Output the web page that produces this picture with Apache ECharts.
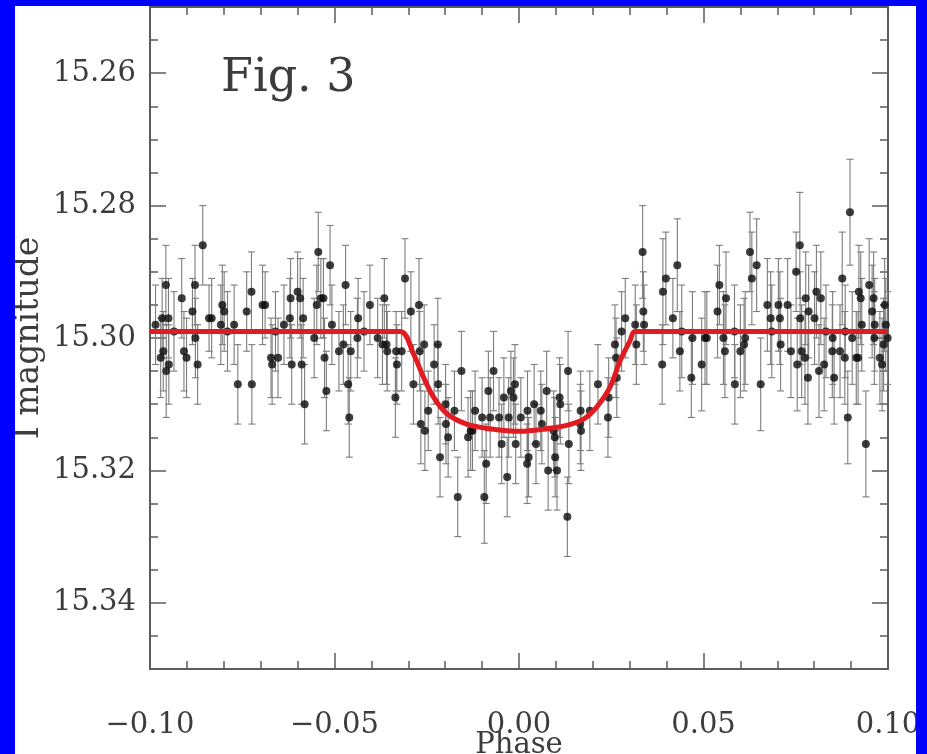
<!DOCTYPE html>
<html>
<head>
<meta charset="utf-8">
<title>Fig. 3 – I-band light curve</title>
<script src="https://cdn.jsdelivr.net/npm/echarts@6/dist/echarts.min.js"></script>
<style>
  html, body { margin: 0; padding: 0; width: 927px; height: 754px; overflow: hidden; background: #0000fe; }
  #panel { position: absolute; left: 15px; top: 6px; width: 901px; height: 748px; background: #ffffff; overflow: hidden; }
  #chart { width: 901px; height: 748px; }
</style>
</head>
<body>
<div id="panel"><div id="chart"></div></div>
<script>
// Phase-folded I-band photometry: phase, magnitude and 1-sigma error per point
const phase = [
  -0.0985, -0.0971, -0.0967, -0.0964, -0.0957, -0.0956, -0.0950, -0.0949, -0.0935, -0.0914,
  -0.0908, -0.0901, -0.0885, -0.0878, -0.0877, -0.0871, -0.0857, -0.0840, -0.0833, -0.0808,
  -0.0804, -0.0799, -0.0790, -0.0772, -0.0762, -0.0738, -0.0725, -0.0724, -0.0695, -0.0688,
  -0.0672, -0.0669, -0.0660, -0.0653, -0.0637, -0.0621, -0.0619, -0.0616, -0.0600, -0.0593,
  -0.0589, -0.0585, -0.0581, -0.0555, -0.0548, -0.0544, -0.0537, -0.0530, -0.0527, -0.0522,
  -0.0512, -0.0507, -0.0488, -0.0476, -0.0470, -0.0463, -0.0460, -0.0456, -0.0438, -0.0436,
  -0.0420, -0.0404, -0.0383, -0.0370, -0.0365, -0.0359, -0.0357, -0.0335, -0.0333, -0.0331,
  -0.0318, -0.0309, -0.0293, -0.0286, -0.0271, -0.0269, -0.0266, -0.0257, -0.0255, -0.0246,
  -0.0230, -0.0220, -0.0219, -0.0214, -0.0199, -0.0198, -0.0192, -0.0175, -0.0166, -0.0156,
  -0.0138, -0.0131, -0.0126, -0.0119, -0.0100, -0.0094, -0.0089, -0.0083, -0.0078, -0.0069,
  -0.0054, -0.0047, -0.0041, -0.0032, -0.0028, -0.0022, -0.0015, -0.0011, -0.0009, 0.0005,
  0.0022, 0.0023, 0.0026, 0.0041, 0.0046, 0.0059, 0.0062, 0.0075, 0.0079, 0.0094,
  0.0097, 0.0098, 0.0103, 0.0110, 0.0112, 0.0131, 0.0133, 0.0135, 0.0166, 0.0167,
  0.0168, 0.0192, 0.0214, 0.0241, 0.0243, 0.0260, 0.0263, 0.0265, 0.0278, 0.0288,
  0.0315, 0.0318, 0.0335, 0.0337, 0.0339, 0.0388, 0.0390, 0.0398, 0.0417, 0.0429,
  0.0436, 0.0441, 0.0467, 0.0470, 0.0495, 0.0504, 0.0509, 0.0538, 0.0543, 0.0554,
  0.0558, 0.0561, 0.0584, 0.0585, 0.0600, 0.0610, 0.0613, 0.0626, 0.0631, 0.0644,
  0.0655, 0.0673, 0.0682, 0.0685, 0.0703, 0.0707, 0.0709, 0.0728, 0.0737, 0.0751,
  0.0754, 0.0761, 0.0762, 0.0766, 0.0775, 0.0777, 0.0783, 0.0785, 0.0801, 0.0806,
  0.0813, 0.0818, 0.0827, 0.0832, 0.0849, 0.0850, 0.0854, 0.0870, 0.0876, 0.0883,
  0.0884, 0.0891, 0.0897, 0.0903, 0.0914, 0.0919, 0.0921, 0.0926, 0.0929, 0.0940,
  0.0949, 0.0957, 0.0961, 0.0963, 0.0964, 0.0978, 0.0984, 0.0988, 0.0991, 0.0994,
  0.0999
];

const imag = [
  15.298, 15.303, 15.297, 15.302, 15.292, 15.305, 15.297, 15.304, 15.299, 15.294,
  15.302, 15.303, 15.296, 15.292, 15.300, 15.304, 15.286, 15.297, 15.297, 15.298,
  15.295, 15.296, 15.299, 15.298, 15.307, 15.296, 15.293, 15.307, 15.295, 15.295,
  15.303, 15.304, 15.299, 15.303, 15.298, 15.297, 15.294, 15.304, 15.293, 15.294,
  15.304, 15.297, 15.310, 15.300, 15.295, 15.287, 15.294, 15.294, 15.303, 15.308,
  15.289, 15.298, 15.302, 15.301, 15.292, 15.307, 15.312, 15.302, 15.300, 15.297,
  15.299, 15.295, 15.300, 15.301, 15.294, 15.301, 15.302, 15.309, 15.302, 15.304,
  15.302, 15.291, 15.296, 15.307, 15.295, 15.302, 15.313, 15.301, 15.314, 15.311,
  15.304, 15.301, 15.307, 15.318, 15.310, 15.313, 15.315, 15.311, 15.324, 15.305,
  15.315, 15.314, 15.314, 15.311, 15.312, 15.324, 15.319, 15.308, 15.312, 15.305,
  15.312, 15.316, 15.309, 15.321, 15.312, 15.308, 15.309, 15.307, 15.316, 15.312,
  15.319, 15.311, 15.318, 15.310, 15.316, 15.311, 15.313, 15.308, 15.320, 15.314,
  15.315, 15.318, 15.320, 15.309, 15.310, 15.327, 15.305, 15.316, 15.313, 15.311,
  15.314, 15.311, 15.307, 15.312, 15.309, 15.301, 15.303, 15.306, 15.299, 15.297,
  15.298, 15.301, 15.287, 15.296, 15.298, 15.304, 15.293, 15.291, 15.297, 15.289,
  15.302, 15.299, 15.306, 15.300, 15.304, 15.300, 15.300, 15.296, 15.292, 15.300,
  15.302, 15.294, 15.299, 15.307, 15.302, 15.301, 15.300, 15.287, 15.291, 15.289,
  15.307, 15.295, 15.297, 15.299, 15.295, 15.297, 15.301, 15.295, 15.302, 15.290,
  15.304, 15.286, 15.297, 15.302, 15.303, 15.294, 15.306, 15.296, 15.297, 15.293,
  15.305, 15.294, 15.304, 15.299, 15.302, 15.300, 15.306, 15.302, 15.291, 15.303,
  15.299, 15.312, 15.281, 15.300, 15.303, 15.303, 15.293, 15.294, 15.298, 15.316,
  15.292, 15.296, 15.294, 15.300, 15.298, 15.303, 15.304, 15.301, 15.295, 15.298,
  15.300
];

const ierr = [
  0.006, 0.006, 0.006, 0.006, 0.006, 0.007, 0.006, 0.006, 0.006, 0.006,
  0.006, 0.006, 0.005, 0.006, 0.006, 0.006, 0.006, 0.005, 0.006, 0.006,
  0.006, 0.006, 0.006, 0.006, 0.006, 0.006, 0.006, 0.006, 0.006, 0.005,
  0.006, 0.006, 0.006, 0.006, 0.006, 0.006, 0.006, 0.006, 0.006, 0.006,
  0.006, 0.006, 0.006, 0.006, 0.006, 0.006, 0.006, 0.006, 0.006, 0.006,
  0.006, 0.006, 0.006, 0.006, 0.006, 0.006, 0.006, 0.006, 0.006, 0.006,
  0.006, 0.006, 0.006, 0.006, 0.006, 0.006, 0.006, 0.006, 0.006, 0.006,
  0.006, 0.006, 0.006, 0.006, 0.007, 0.006, 0.006, 0.006, 0.006, 0.006,
  0.006, 0.007, 0.006, 0.006, 0.006, 0.006, 0.006, 0.006, 0.006, 0.006,
  0.006, 0.006, 0.006, 0.006, 0.006, 0.007, 0.006, 0.006, 0.006, 0.006,
  0.006, 0.006, 0.006, 0.006, 0.006, 0.006, 0.006, 0.006, 0.006, 0.006,
  0.006, 0.006, 0.006, 0.006, 0.006, 0.006, 0.006, 0.006, 0.006, 0.006,
  0.006, 0.006, 0.006, 0.006, 0.006, 0.006, 0.006, 0.006, 0.006, 0.006,
  0.006, 0.006, 0.006, 0.006, 0.006, 0.006, 0.006, 0.006, 0.006, 0.006,
  0.006, 0.006, 0.007, 0.006, 0.006, 0.006, 0.008, 0.007, 0.006, 0.007,
  0.006, 0.007, 0.006, 0.007, 0.007, 0.007, 0.007, 0.007, 0.006, 0.007,
  0.007, 0.007, 0.007, 0.006, 0.007, 0.007, 0.007, 0.006, 0.007, 0.007,
  0.007, 0.007, 0.007, 0.007, 0.007, 0.007, 0.007, 0.007, 0.007, 0.006,
  0.007, 0.008, 0.007, 0.007, 0.007, 0.007, 0.007, 0.007, 0.007, 0.007,
  0.007, 0.007, 0.007, 0.007, 0.007, 0.007, 0.007, 0.007, 0.007, 0.007,
  0.007, 0.007, 0.008, 0.007, 0.007, 0.007, 0.007, 0.007, 0.007, 0.008,
  0.007, 0.007, 0.007, 0.007, 0.007, 0.007, 0.007, 0.007, 0.007, 0.007,
  0.007
];

// Transit model curve
const modelPhase = [
  -0.1000, -0.0322, -0.0286, -0.0259, -0.0232, -0.0196, -0.0142, -0.0079, 0.0003,
  0.0075, 0.0129, 0.0176, 0.0211, 0.0247, 0.0274, 0.0301, 0.0314, 0.1000
];
const modelMag = [
  15.2990, 15.2990, 15.3024, 15.3059, 15.3089, 15.3114, 15.3130, 15.3137, 15.3141,
  15.3137, 15.3132, 15.3122, 15.3104, 15.3074, 15.3034, 15.3004, 15.2990, 15.2990
];

// Labelled tick positions
const xTicks = [-0.10, -0.05, 0.00, 0.05, 0.10];
const yTicks = [15.26, 15.28, 15.30, 15.32, 15.34];

const FONT = '"DejaVu Serif", serif';
const INK = '#3c3c3c';
const FRAME = '#5c5c5c';

const points = phase.map((p, i) => [p, imag[i], ierr[i]]);
const model = modelPhase.map((p, i) => [p, modelMag[i]]);

const xFmt = v => {
  if (Math.abs(v) < 1e-9) return '0.00';
  return (v < 0 ? '\u2212' : '') + Math.abs(v).toFixed(2);
};

const yRange = { type: 'value', min: 15.25, max: 15.35, inverse: true, splitLine: { show: false } };
const xRange = { type: 'value', min: -0.1, max: 0.1, splitLine: { show: false } };
const tickLine = { color: FRAME, width: 1.5 };
const frameLine = { show: true, onZero: false, lineStyle: { color: FRAME, width: 2 } };

const chart = echarts.init(document.getElementById('chart'), null, { renderer: 'canvas' });

chart.setOption({
  animation: false,
  backgroundColor: 'transparent',
  title: {
    text: 'Fig. 3',
    left: 206, top: 50, padding: 0,
    textStyle: { fontFamily: FONT, fontSize: 46, fontWeight: 'normal', color: INK }
  },
  grid: { left: 135, right: 28, top: 1, bottom: 85, containLabel: false, outerBoundsMode: 'none' },
  xAxis: [
    Object.assign({}, xRange, {
      position: 'bottom', interval: 0.05,
      axisLine: frameLine,
      axisTick: { show: true, inside: true, length: 16, lineStyle: tickLine },
      minorTick: { show: true, splitNumber: 5, length: 8, lineStyle: tickLine },
      axisLabel: { show: true, customValues: xTicks, formatter: xFmt, margin: 42,
        fontFamily: FONT, fontSize: 29, color: INK },
      name: 'Phase', nameLocation: 'middle', nameGap: 62, nameMoveOverlap: false,
      nameTextStyle: { fontFamily: FONT, fontSize: 29, color: INK }
    }),
    Object.assign({}, xRange, {
      position: 'top', interval: 0.05,
      axisLine: frameLine,
      axisTick: { show: true, inside: true, length: 16, lineStyle: tickLine },
      minorTick: { show: true, splitNumber: 5, length: 8, lineStyle: tickLine },
      axisLabel: { show: false }
    })
  ],
  yAxis: [
    Object.assign({}, yRange, {
      position: 'left', interval: 0.005,
      axisLine: frameLine,
      axisTick: { show: true, inside: true, length: 8, lineStyle: tickLine },
      axisLabel: { show: true, customValues: yTicks, formatter: v => v.toFixed(2), margin: 14,
        fontFamily: FONT, fontSize: 29, color: INK },
      name: 'I magnitude', nameLocation: 'middle', nameGap: 104, nameMoveOverlap: false,
      nameTextStyle: { fontFamily: FONT, fontSize: 33, color: INK }
    }),
    Object.assign({}, yRange, {
      position: 'left',
      axisLine: { show: false, onZero: false },
      axisTick: { show: true, inside: true, length: 16, customValues: yTicks, lineStyle: tickLine },
      axisLabel: { show: false }
    }),
    Object.assign({}, yRange, {
      position: 'right', interval: 0.005,
      axisLine: frameLine,
      axisTick: { show: true, inside: true, length: 8, lineStyle: tickLine },
      axisLabel: { show: false }
    }),
    Object.assign({}, yRange, {
      position: 'right',
      axisLine: { show: false, onZero: false },
      axisTick: { show: true, inside: true, length: 16, customValues: yTicks, lineStyle: tickLine },
      axisLabel: { show: false }
    })
  ],
  series: [
    {
      // error bars with short caps
      type: 'custom',
      xAxisIndex: 0, yAxisIndex: 0,
      data: points,
      encode: { x: 0, y: 1 },
      silent: true,
      z: 2,
      renderItem(params, api) {
        const x = api.value(0), m = api.value(1), e = api.value(2);
        const a = api.coord([x, m - e]);
        const b = api.coord([x, m + e]);
        const cap = 3.5;
        const style = { stroke: '#7c7c7c', lineWidth: 1.1 };
        return {
          type: 'group',
          children: [
            { type: 'line', shape: { x1: a[0], y1: a[1], x2: b[0], y2: b[1] }, style },
            { type: 'line', shape: { x1: a[0] - cap, y1: a[1], x2: a[0] + cap, y2: a[1] }, style },
            { type: 'line', shape: { x1: b[0] - cap, y1: b[1], x2: b[0] + cap, y2: b[1] }, style }
          ]
        };
      }
    },
    {
      type: 'scatter',
      xAxisIndex: 0, yAxisIndex: 0,
      data: points,
      encode: { x: 0, y: 1 },
      symbol: 'circle',
      symbolSize: 8,
      itemStyle: { color: '#0c0c0c' },
      silent: true,
      z: 3
    },
    {
      type: 'line',
      xAxisIndex: 0, yAxisIndex: 0,
      data: model,
      smooth: 0.3,
      showSymbol: false,
      symbol: 'none',
      lineStyle: { color: '#e11b22', width: 5 },
      silent: true,
      z: 4
    }
  ]
});
</script>
</body>
</html>
